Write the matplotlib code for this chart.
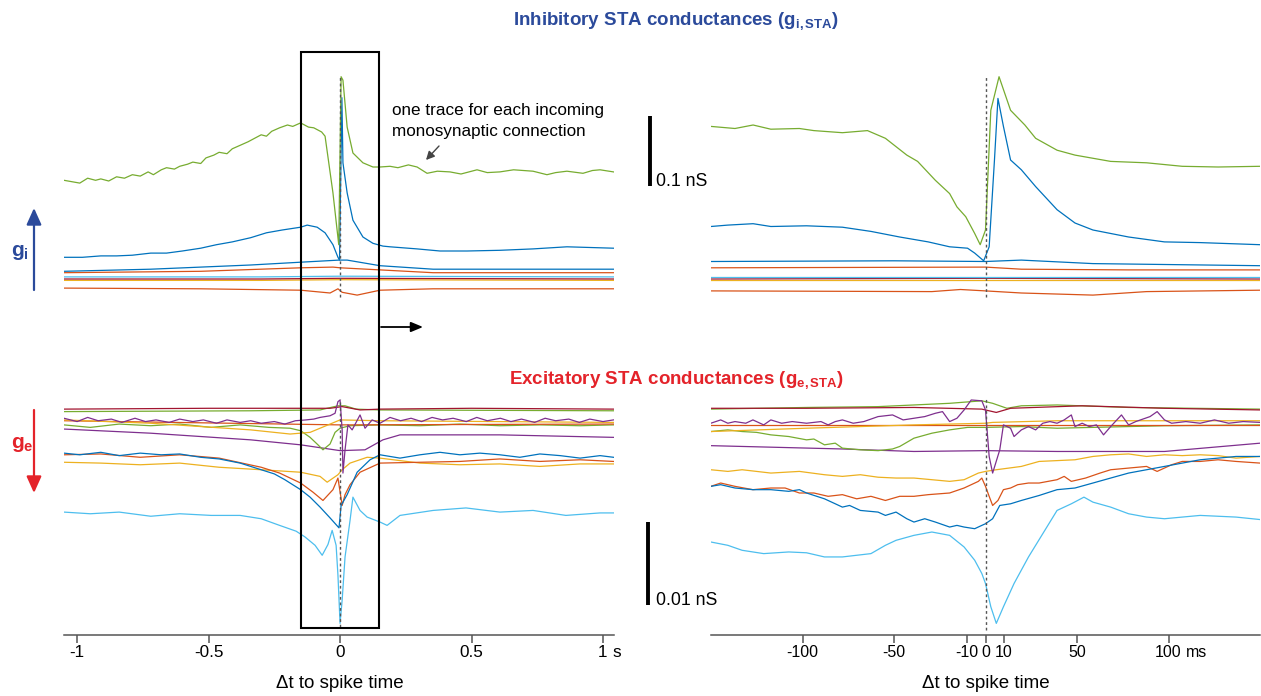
import matplotlib
matplotlib.use('Agg')
import matplotlib.pyplot as plt
from matplotlib.patches import Rectangle, FancyArrowPatch
from matplotlib.transforms import blended_transform_factory

plt.rcParams['font.family'] = ['Liberation Sans', 'DejaVu Sans']
plt.rcParams['mathtext.fontset'] = 'custom'
plt.rcParams['mathtext.rm'] = 'Liberation Sans'
plt.rcParams['mathtext.bf'] = 'Liberation Sans:bold'
plt.rcParams['mathtext.it'] = 'Liberation Sans:italic'
plt.rcParams['axes.unicode_minus'] = False

# matlab style trace colours
BLUE = '#0072BD'
ORANGE = '#D95319'
YELLOW = '#EDB120'
PURPLE = '#7E2F8E'
GREEN = '#77AC30'
LBLUE = '#4DBEEE'
DRED = '#A2142F'
TITLE_BLUE = '#2B4A9B'
TITLE_RED = '#E4232A'

zoom_window = 0.15  # s, box on the left = x range on the right

# ---------------- inhibitory STA, full window (t in s, g in pS) ----------------
gi_green_t = [-1.05, -1.02, -0.99, -0.96, -0.93, -0.91, -0.88, -0.85, -0.82, -0.79,
              -0.76, -0.73, -0.71, -0.68, -0.66, -0.63, -0.61, -0.58, -0.56, -0.53,
              -0.51, -0.48, -0.46, -0.43, -0.41, -0.38, -0.35, -0.33, -0.30, -0.28,
              -0.26, -0.23, -0.20, -0.18, -0.15, -0.12, -0.10, -0.07, -0.057, -0.027,
              -0.005, 0.004, 0.011, 0.027, 0.049, 0.087, 0.125, 0.152, 0.19, 0.22,
              0.26, 0.293, 0.331, 0.37, 0.418, 0.46, 0.521, 0.56, 0.608, 0.66,
              0.734, 0.787, 0.82, 0.863, 0.924, 0.96, 0.989, 1.04]
gi_green = [171, 169, 167, 174, 171, 173, 170, 176, 174, 179,
            177, 183, 179, 186, 189, 187, 191, 194, 197, 195,
            203, 207, 211, 209, 216, 221, 226, 230, 236, 234,
            241, 246, 250, 248, 253, 247, 246, 240, 234, 153,
            79, 319, 314, 247, 210, 196, 190, 190, 191, 189,
            193, 190, 181, 184, 183, 180, 186, 182, 183, 186,
            184, 179, 182, 184, 181, 185, 186, 183]
gi_blue_t = [-1.05, -0.98, -0.91, -0.85, -0.79, -0.72, -0.66, -0.60, -0.53, -0.47,
             -0.41, -0.34, -0.28, -0.22, -0.15, -0.125, -0.087, -0.057, -0.027, -0.008,
             -0.002, 0.007, 0.011, 0.027, 0.049, 0.087, 0.125, 0.163, 0.19, 0.293,
             0.38, 0.483, 0.608, 0.734, 0.863, 1.04]
gi_blue = [61, 61, 63, 63, 64, 67, 67, 70, 74, 79,
           83, 89, 96, 100, 104, 107, 104, 96, 79, 61,
           57, 289, 196, 153, 114, 90, 81, 77, 76, 73,
           70, 70, 71, 73, 76, 74]
gi_blue2_t = [-1.05, -0.72, -0.34, -0.15, -0.004, 0.027, 0.152, 0.354, 1.04]
gi_blue2 = [41, 44, 50, 54, 57, 57, 49, 44, 44]
gi_orange_t = [-1.05, -0.53, -0.15, -0.027, 0.0, 0.152, 0.354, 1.04]
gi_orange = [39, 41, 46, 47, 46, 43, 39, 39]
gi_flat_t = [-1.05, -0.3, 0.0, 1.04]
gi_lblue = [33, 33, 34, 33]
gi_dred = [30, 30, 31, 30]
gi_yellow = [28, 28, 29, 28]
gi_orange2_t = [-1.05, -0.53, -0.15, -0.038, -0.008, 0.008, 0.065, 0.152, 0.354, 1.04]
gi_orange2 = [17, 16, 14, 10, 16, 11, 7, 14, 16, 16]

# ---------------- inhibitory STA, zoom (t in ms, g in pS) ----------------
gz_green_t = [-150.1, -136.9, -127, -117.3, -101.7, -93.8, -78.2, -64.5, -54.7, -43,
              -37.1, -27.4, -19.6, -15.6, -10.8, -5.9, -2.9, 0, 2.9, 7.4,
              13.7, 21.5, 27.4, 39.1, 48.9, 68.4, 88, 107.5, 127.1, 150.1]
gz_green = [248, 245, 250, 244, 245, 242, 239, 242, 231, 207,
            198, 171, 152, 133, 119, 95, 79, 100, 271, 319,
            271, 250, 231, 214, 207, 198, 196, 191, 190, 191]
gz_blue_t = [-150.1, -140.8, -127, -117.3, -97.8, -78.2, -62.6, -46.9, -31.3, -19.6,
             -9.8, -5.9, -1, 2, 4.9, 6.8, 9.8, 13.7, 19.6, 27.4,
             39.1, 48.9, 58.7, 78.2, 97.8, 117.3, 150.1]
gz_blue = [105, 107, 109, 105, 106, 104, 98, 90, 83, 76,
           74, 67, 56, 76, 200, 288, 248, 200, 186, 162,
           129, 110, 100, 90, 83, 82, 79]
gz_blue2_t = [-150, -50, 0, 19.6, 58.7, 150]
gz_blue2 = [55, 56, 55, 57, 52, 49]
gz_orange_t = [-150, 0, 19.6, 78, 150]
gz_orange = [46, 47, 44, 43, 43]
gz_flat_t = [-150, 0, 150]
gz_lblue = [33, 33, 33]
gz_dred = [30, 31, 30]
gz_yellow = [29, 29, 29]
gz_orange2_t = [-150, -29.3, -13.7, 0, 19.6, 58.7, 88, 150]
gz_orange2 = [13, 12, 15, 13, 10, 7, 12, 14]

# ---------------- excitatory STA, full window (t in s, g in pS) ----------------
ge_dred_t = [-1.05, -0.5, -0.038, 0.008, 0.076, 0.152, 0.5, 1.04]
ge_dred = [1.7, 1.6, 1.6, 1.4, 1.8, 1.7, 1.6, 1.7]
ge_green2_t = [-1.05, -0.34, -0.076, -0.008, 0.019, 0.061, 0.152, 1.04]
ge_green2 = [2.0, 1.9, 1.8, 1.3, 1.3, 1.7, 1.8, 1.9]
ge_purple_t = [-1.05, -1.0, -0.96, -0.92, -0.87, -0.83, -0.78, -0.74, -0.70, -0.65,
               -0.61, -0.56, -0.52, -0.47, -0.43, -0.38, -0.34, -0.30, -0.25, -0.21,
               -0.17, -0.13, -0.10, -0.076, -0.038, -0.019, -0.008, 0.0, 0.008, 0.011,
               0.019, 0.030, 0.046, 0.061, 0.076, 0.095, 0.122, 0.152, 0.19, 0.23,
               0.27, 0.31, 0.35, 0.39, 0.43, 0.48, 0.52, 0.56, 0.61, 0.65,
               0.69, 0.74, 0.78, 0.82, 0.87, 0.91, 0.95, 1.0, 1.04]
ge_purple = [2.8, 3.2, 2.7, 3.1, 2.9, 3.3, 2.8, 3.2, 3.0, 3.3,
             2.9, 3.2, 3.0, 3.4, 3.0, 3.3, 3.1, 3.4, 3.2, 3.5,
             3.1, 3.0, 2.9, 2.7, 2.5, 2.2, 0.8, 0.6, 4.2, 9.4,
             6.6, 3.6, 4.2, 3.3, 2.4, 4.0, 3.0, 3.4, 2.7, 3.1,
             2.8, 3.2, 2.7, 3.0, 2.8, 3.2, 2.7, 3.1, 2.8, 3.2,
             2.9, 3.3, 2.8, 3.1, 2.9, 3.3, 2.9, 3.2, 3.0]
ge_yellow2_t = [-1.05, -0.72, -0.34, -0.19, -0.114, 0.0, 0.152, 1.04]
ge_yellow2 = [3.0, 3.4, 4.2, 4.7, 4.5, 3.0, 3.1, 3.3]
ge_orange2_t = [-1.05, 0.0, 1.04]
ge_orange2 = [3.1, 3.6, 3.5]
ge_green_t = [-1.05, -0.95, -0.84, -0.72, -0.61, -0.49, -0.38, -0.27, -0.19, -0.15,
              -0.114, -0.084, -0.065, -0.038, -0.019, 0.0, 0.038, 0.152, 0.304, 0.456,
              0.608, 0.76, 0.913, 1.04]
ge_green = [3.6, 3.9, 3.5, 3.7, 3.5, 3.9, 3.6, 3.9, 4.0, 4.3,
            5.1, 6.0, 6.6, 5.9, 4.5, 4.0, 3.7, 3.6, 3.7, 3.5,
            3.7, 3.6, 3.7, 3.6]
ge_purple2_t = [-1.05, -0.72, -0.34, -0.15, 0.0, 0.095, 0.163, 0.228, 0.608, 1.04]
ge_purple2 = [4.1, 4.6, 5.4, 6.0, 6.7, 6.6, 5.4, 4.8, 4.8, 5.1]
ge_blue_t = [-1.05, -0.99, -0.91, -0.84, -0.76, -0.68, -0.61, -0.53, -0.46, -0.38,
             -0.30, -0.25, -0.21, -0.15, -0.114, -0.076, -0.038, -0.004, 0.004, 0.027,
             0.065, 0.114, 0.152, 0.228, 0.304, 0.38, 0.456, 0.532, 0.608, 0.684,
             0.76, 0.837, 0.913, 0.989, 1.04]
ge_blue = [7.0, 7.2, 6.9, 7.3, 7.0, 7.2, 7.1, 7.5, 7.7, 8.2,
           9.0, 9.5, 10.2, 11.4, 12.3, 13.5, 14.8, 16.0, 13.3, 12.0,
           9.3, 7.8, 7.2, 7.6, 7.2, 6.9, 7.2, 7.0, 7.2, 7.5,
           7.1, 7.3, 7.6, 7.3, 7.5]
ge_orange_t = [-1.05, -0.91, -0.76, -0.61, -0.46, -0.30, -0.23, -0.15, -0.103, -0.065,
               -0.027, -0.008, 0.008, 0.019, 0.038, 0.076, 0.152, 0.304, 0.456, 0.608,
               0.76, 0.913, 1.04]
ge_orange = [7.2, 7.1, 7.5, 7.2, 7.6, 8.7, 9.4, 10.6, 11.7, 12.7,
             11.4, 10.0, 13.3, 12.0, 10.8, 9.3, 8.2, 8.1, 8.0, 7.7,
             8.0, 7.8, 8.0]
ge_yellow_t = [-1.05, -0.91, -0.76, -0.61, -0.46, -0.30, -0.15, -0.076, -0.049, -0.008,
               0.008, 0.038, 0.103, 0.152, 0.304, 0.456, 0.608, 0.76, 0.913, 1.04]
ge_yellow = [8.1, 8.2, 8.4, 8.2, 8.7, 9.0, 9.3, 9.8, 10.5, 9.6,
             9.0, 8.2, 7.5, 7.6, 8.2, 8.4, 8.3, 8.6, 8.3, 8.3]
ge_lblue_t = [-1.05, -0.95, -0.84, -0.72, -0.61, -0.49, -0.38, -0.30, -0.23, -0.167,
              -0.133, -0.095, -0.068, -0.046, -0.030, -0.015, -0.008, 0.0, 0.008, 0.019,
              0.038, 0.049, 0.076, 0.103, 0.152, 0.179, 0.228, 0.354, 0.479, 0.608,
              0.734, 0.859, 0.989, 1.04]
ge_lblue = [14.1, 14.3, 14.1, 14.6, 14.3, 14.5, 14.5, 14.9, 15.7, 16.4,
            17.1, 18.1, 19.3, 18.0, 16.3, 18.1, 21.7, 27.5, 24.7, 19.5,
            15.1, 12.3, 13.9, 14.7, 15.3, 15.7, 14.5, 13.9, 13.6, 14.1,
            13.9, 14.5, 14.2, 14.2]

# ---------------- excitatory STA, zoom (t in ms, g in pS) ----------------
ez_dred_t = [-150.1, -97.8, -39.1, -2, 5.9, 13.7, 52.8, 97.8, 150.1]
ez_dred = [1.6, 1.6, 1.5, 1.7, 2.1, 1.6, 1.3, 1.6, 1.8]
ez_green2_t = [-150.1, -97.8, -58.7, -19.6, -2, 3.9, 11.7, 19.6, 39.1, 78.2, 150.1]
ez_green2 = [1.7, 1.5, 1.4, 1.0, 0.7, 1.0, 1.6, 1.3, 1.2, 1.5, 1.7]
ez_purple_t = [-150.1, -144.7, -140.8, -136.9, -131, -127.1, -121.2, -117.3, -111.4, -105.6,
               -97.8, -89.9, -86, -82.1, -78.2, -72.3, -66.5, -58.7, -50.8, -45,
               -39.1, -33.2, -27.4, -23.5, -19.6, -15.6, -11.7, -7.8, -2, 0,
               2, 3.9, 7.8, 9.8, 13.7, 15.6, 19.6, 23.5, 27.4, 31.3,
               35.2, 39.1, 43, 46.9, 48.9, 52.8, 56.7, 60.6, 64.5, 68.4,
               74.3, 78.2, 82.1, 89.9, 93.8, 97.8, 101.7, 109.5, 117.3, 125.1,
               132.9, 140.8, 150.1]
ez_purple = [3.4, 3.0, 3.4, 3.2, 3.4, 3.0, 3.6, 3.0, 3.4, 3.2,
             3.4, 3.2, 3.6, 3.2, 3.0, 3.4, 3.2, 2.6, 2.4, 3.0,
             2.8, 2.6, 2.2, 2.0, 3.2, 2.8, 1.8, 0.6, 0.7, 1.8,
             7.4, 9.4, 6.6, 3.6, 4.0, 5.0, 4.2, 3.8, 4.2, 3.4,
             3.2, 3.4, 3.0, 2.4, 3.8, 3.4, 3.8, 3.6, 4.8, 3.8,
             2.4, 3.6, 3.2, 2.6, 2.0, 3.0, 3.4, 3.2, 3.4, 3.0,
             3.4, 3.2, 3.3]
ez_yellow2_t = [-150.1, -97.8, -39.1, 0, 3.9, 39.1, 150.1]
ez_yellow2 = [4.4, 4.0, 3.6, 3.4, 3.3, 3.1, 3.1]
ez_orange2_t = [-150, 0, 150]
ez_orange2 = [3.6, 3.6, 3.6]
ez_green_t = [-150.1, -140.8, -133, -125.1, -117.3, -107.5, -97.8, -93.8, -88, -82.1,
              -78.2, -68.4, -58.7, -50.8, -46.9, -39.1, -29.3, -19.6, -9.8, 0,
              19.6, 39.1, 58.7, 78.2, 97.8, 150.1]
ez_green = [4.4, 4.2, 4.4, 4.5, 4.8, 5.0, 5.4, 5.3, 6.0, 5.8,
            6.4, 6.6, 6.7, 6.5, 6.2, 5.2, 4.6, 4.2, 3.9, 3.9,
            3.8, 4.0, 3.9, 3.8, 3.7, 3.6]
ez_purple2_t = [-150.1, -78.2, -39.1, 0, 39.1, 97.8, 150.1]
ez_purple2 = [6.1, 6.5, 6.8, 6.7, 6.8, 6.8, 5.8]
ez_yellow_t = [-150.1, -140.8, -133, -117.3, -101.7, -88, -78.2, -68.4, -58.7, -48.9,
               -39.1, -29.3, -19.6, -11.7, -3.9, 0, 5.9, 19.6, 29.3, 39.1,
               48.9, 58.7, 68.4, 78.2, 88, 97.8, 107.5, 117.3, 127.1, 136.9, 150.1]
ez_yellow = [9.0, 9.2, 9.0, 9.4, 9.2, 9.6, 9.8, 9.6, 9.9, 10.0,
             10.0, 10.2, 10.4, 10.2, 9.4, 9.2, 9.0, 8.6, 8.0, 7.9,
             7.8, 7.4, 7.2, 7.1, 7.4, 7.2, 7.3, 7.2, 7.3, 7.6, 7.4]
ez_orange_t = [-150.1, -144.7, -136.9, -127.1, -117.3, -109.5, -101.7, -93.8, -86, -78.2,
               -70.4, -62.6, -54.7, -46.9, -39.1, -31.3, -19.6, -11.7, -3.9, -2,
               0, 2, 3.9, 6.8, 9.8, 13.7, 17.6, 23.5, 29.3, 39.1,
               43, 46.9, 54.7, 62.6, 68.4, 78.2, 88, 93.8, 101.7, 107.5,
               117.3, 127.1, 136.9, 150.1]
ez_orange = [11.0, 10.6, 11.0, 11.4, 11.2, 11.2, 11.8, 11.8, 12.2, 12.0,
             12.5, 12.2, 12.7, 12.2, 12.2, 12.0, 11.8, 11.2, 10.4, 10.0,
             11.0, 12.2, 13.3, 12.7, 11.4, 11.2, 10.8, 10.6, 10.6, 10.2,
             9.8, 10.4, 10.0, 9.4, 9.0, 8.8, 8.6, 9.2, 8.4, 8.0,
             8.0, 7.8, 8.0, 8.2]
ez_blue_t = [-150.1, -144.7, -136.9, -127.1, -117.3, -107.5, -101.7, -97.8, -88, -82.1,
             -78.2, -74.3, -68.4, -58.7, -54.7, -48.9, -43, -39.1, -33.2, -27.4,
             -19.6, -15.6, -11.7, -5.9, -2, 0, 3.9, 7.8, 13.7, 19.6,
             29.3, 39.1, 48.9, 58.7, 68.4, 78.2, 88, 97.8, 107.5, 117.3,
             127.1, 136.9, 150.1]
ez_blue = [11.0, 10.8, 11.2, 11.4, 11.4, 11.6, 11.4, 11.8, 12.5, 13.1,
           13.5, 13.3, 13.9, 14.1, 14.5, 14.1, 14.9, 15.3, 14.9, 15.3,
           15.9, 15.7, 15.9, 16.1, 15.7, 15.5, 14.9, 13.3, 13.1, 12.7,
           12.1, 11.4, 11.2, 10.6, 10.0, 9.4, 9.0, 8.6, 8.2, 7.8,
           7.6, 7.4, 7.4]
ez_lblue_t = [-150.1, -140.8, -133, -121.2, -107.5, -97.8, -88, -78.2, -62.6, -54.7,
              -48.9, -39.1, -29.3, -19.6, -11.7, -5.9, -2, 0, 2.9, 5.9,
              9.8, 15.6, 23.5, 31.3, 39.1, 46.9, 53.8, 58.7, 68.4, 78.2,
              88, 97.8, 107.5, 117.3, 127.1, 136.9, 150.1]
ez_lblue = [17.7, 18.1, 18.7, 19.1, 18.9, 19.0, 19.5, 19.5, 19.1, 18.1,
            17.5, 16.9, 16.5, 16.9, 18.3, 19.9, 21.5, 22.7, 25.5, 27.5,
            25.5, 22.7, 19.5, 16.7, 13.9, 13.1, 12.3, 12.9, 13.5, 14.3,
            14.7, 14.9, 14.7, 14.5, 14.6, 14.7, 15.0]

left_ticks = [-1, -0.5, 0, 0.5, 1]
left_ticklabels = ['-1', '-0.5', '0', '0.5', '1']
right_ticks = [-100, -50, -10, 0, 10, 50, 100]
right_ticklabels = ['-100', '-50', '-10', '0', '10', '50', '100']

gi_full = [(gi_orange2_t, gi_orange2, ORANGE), (gi_flat_t, gi_yellow, YELLOW),
           (gi_flat_t, gi_dred, DRED), (gi_flat_t, gi_lblue, LBLUE),
           (gi_orange_t, gi_orange, ORANGE), (gi_blue2_t, gi_blue2, BLUE),
           (gi_blue_t, gi_blue, BLUE), (gi_green_t, gi_green, GREEN)]
gi_zoom = [(gz_orange2_t, gz_orange2, ORANGE), (gz_flat_t, gz_yellow, YELLOW),
           (gz_flat_t, gz_dred, DRED), (gz_flat_t, gz_lblue, LBLUE),
           (gz_orange_t, gz_orange, ORANGE), (gz_blue2_t, gz_blue2, BLUE),
           (gz_blue_t, gz_blue, BLUE), (gz_green_t, gz_green, GREEN)]
ge_full = [(ge_lblue_t, ge_lblue, LBLUE), (ge_yellow_t, ge_yellow, YELLOW),
           (ge_orange_t, ge_orange, ORANGE), (ge_blue_t, ge_blue, BLUE),
           (ge_purple2_t, ge_purple2, PURPLE), (ge_green_t, ge_green, GREEN),
           (ge_orange2_t, ge_orange2, ORANGE), (ge_yellow2_t, ge_yellow2, YELLOW),
           (ge_green2_t, ge_green2, GREEN), (ge_dred_t, ge_dred, DRED),
           (ge_purple_t, ge_purple, PURPLE)]
ge_zoom = [(ez_lblue_t, ez_lblue, LBLUE), (ez_yellow_t, ez_yellow, YELLOW),
           (ez_orange_t, ez_orange, ORANGE), (ez_blue_t, ez_blue, BLUE),
           (ez_purple2_t, ez_purple2, PURPLE), (ez_green_t, ez_green, GREEN),
           (ez_orange2_t, ez_orange2, ORANGE), (ez_yellow2_t, ez_yellow2, YELLOW),
           (ez_green2_t, ez_green2, GREEN), (ez_dred_t, ez_dred, DRED),
           (ez_purple_t, ez_purple, PURPLE)]

W, H = 1261, 696
fig = plt.figure(figsize=(W / 100, H / 100), dpi=100)


def px_axes(x0, y0, x1, y1):
    return fig.add_axes([x0 / W, 1 - y1 / H, (x1 - x0) / W, (y1 - y0) / H])


def fig_arrow(p0, p1, color, style, scale, lw):
    a = FancyArrowPatch((p0[0] / W, 1 - p0[1] / H), (p1[0] / W, 1 - p1[1] / H),
                        transform=fig.transFigure, arrowstyle=style, mutation_scale=scale,
                        color=color, lw=lw, shrinkA=0, shrinkB=0)
    fig.patches.append(a)


ax_il = px_axes(64, 55, 614, 300)
ax_ir = px_axes(711, 55, 1260, 300)
ax_el = px_axes(64, 395, 614, 635)
ax_er = px_axes(711, 395, 1260, 635)

for ax in (ax_il, ax_ir, ax_el, ax_er):
    ax.patch.set_alpha(0)
    for s in ('left', 'right', 'top'):
        ax.spines[s].set_visible(False)
    ax.set_yticks([])

for ax in (ax_il, ax_ir):
    ax.set_ylim(0, 350)
    ax.spines['bottom'].set_visible(False)
    ax.set_xticks([])
for ax, fs in ((ax_el, 12.3), (ax_er, 11.5)):
    ax.set_ylim(28.9, 0)  # g_e grows downwards
    ax.spines['bottom'].set_color('#555555')
    ax.spines['bottom'].set_linewidth(1.1)
    ax.tick_params(axis='x', direction='out', length=6, width=1.1, color='#555555',
                   labelsize=fs, pad=1.5)

ax_il.set_xlim(-1.05, 1.042)
ax_el.set_xlim(-1.05, 1.042)
ax_ir.set_xlim(-150, 150)
ax_er.set_xlim(-150, 150)

for t, g, c in gi_full:
    ax_il.plot(t, g, color=c, lw=0.9)
for t, g, c in gi_zoom:
    ax_ir.plot(t, g, color=c, lw=0.9)
for t, g, c in ge_full:
    ax_el.plot(t, g, color=c, lw=0.9)
for t, g, c in ge_zoom:
    ax_er.plot(t, g, color=c, lw=0.9)

# spike time markers
dot = dict(color='#555555', lw=1.0, ls=(0, (2, 2)))
ax_il.axvline(0, 0.012, 0.92, **dot)
ax_ir.axvline(0, 0.012, 0.92, **dot)
ax_el.axvline(0, 0.035, 0.985, **dot)
ax_er.axvline(0, 0.02, 0.985, **dot)

ax_el.set_xticks(left_ticks)
ax_el.set_xticklabels(left_ticklabels)
ax_er.set_xticks(right_ticks)
ax_er.set_xticklabels(right_ticklabels)
ax_el.annotate('s', xy=(1, 0), xycoords=('data', 'axes fraction'), xytext=(7, -7.5),
               textcoords='offset points', ha='left', va='top', fontsize=12.3)
ax_er.annotate('ms', xy=(100, 0), xycoords=('data', 'axes fraction'), xytext=(12.7, -7.5),
               textcoords='offset points', ha='left', va='top', fontsize=11.5)
fig.text(340 / W, 1 - 683 / H, '\u0394t to spike time', ha='center', va='center', fontsize=13.5)
fig.text(986 / W, 1 - 683 / H, '\u0394t to spike time', ha='center', va='center', fontsize=13.5)

# zoom box spanning both left panels
box_tr = blended_transform_factory(ax_el.transData, ax_el.transAxes)
ax_el.add_patch(Rectangle((-zoom_window, 0.029), 2 * zoom_window, 2.4, transform=box_tr,
                          fill=False, ec='black', lw=1.5, clip_on=False, zorder=5))
fig_arrow((381, 327), (423, 327), 'black', '-|>,head_length=0.6,head_width=0.25', 12, 1.3)

# scale bars
sb_tr = blended_transform_factory(fig.transFigure, ax_il.transData)
ax_il.plot([650 / W, 650 / W], [163, 263], transform=sb_tr, color='black', lw=2.8,
           clip_on=False, solid_capstyle='butt')
ax_il.text(656 / W, 163, '0.1 nS', transform=sb_tr, fontsize=12.8, va='baseline', ha='left')
sb_tr2 = blended_transform_factory(fig.transFigure, ax_el.transData)
ax_el.plot([648 / W, 648 / W], [25.3, 15.3], transform=sb_tr2, color='black', lw=2.8,
           clip_on=False, solid_capstyle='butt')
ax_el.text(656 / W, 25.3, '0.01 nS', transform=sb_tr2, fontsize=12.8, va='baseline', ha='left')

# titles
fig.text(676 / W, 1 - 21 / H, r'Inhibitory STA conductances (g$_{\mathbf{i,STA}}$)',
         color=TITLE_BLUE, fontsize=13.5, fontweight='bold', ha='center', va='center')
fig.text(676 / W, 1 - 380 / H, r'Excitatory STA conductances (g$_{\mathbf{e,STA}}$)',
         color=TITLE_RED, fontsize=13.5, fontweight='bold', ha='center', va='center')

# annotation
fig.text(392 / W, 1 - 121 / H, 'one trace for each incoming\nmonosynaptic connection',
         fontsize=12.3, ha='left', va='center', linespacing=1.45)
fig_arrow((439, 146), (426, 160), '#444444', '-|>,head_length=0.5,head_width=0.25', 10, 1.0)

# g_i / g_e direction arrows
fig_arrow((34, 290), (34, 208), TITLE_BLUE, '-|>,head_length=1.0,head_width=0.45', 10, 1.6)
fig_arrow((34, 410), (34, 493), TITLE_RED, '-|>,head_length=1.0,head_width=0.45', 10, 1.6)
fig.text(11 / W, 1 - 253 / H, r'$\mathbf{g}_{\mathbf{i}}$', color=TITLE_BLUE, fontsize=15,
         ha='left', va='center')
fig.text(11 / W, 1 - 444 / H, r'$\mathbf{g}_{\mathbf{e}}$', color=TITLE_RED, fontsize=15,
         ha='left', va='center')

fig.savefig('out.png', dpi=100)
